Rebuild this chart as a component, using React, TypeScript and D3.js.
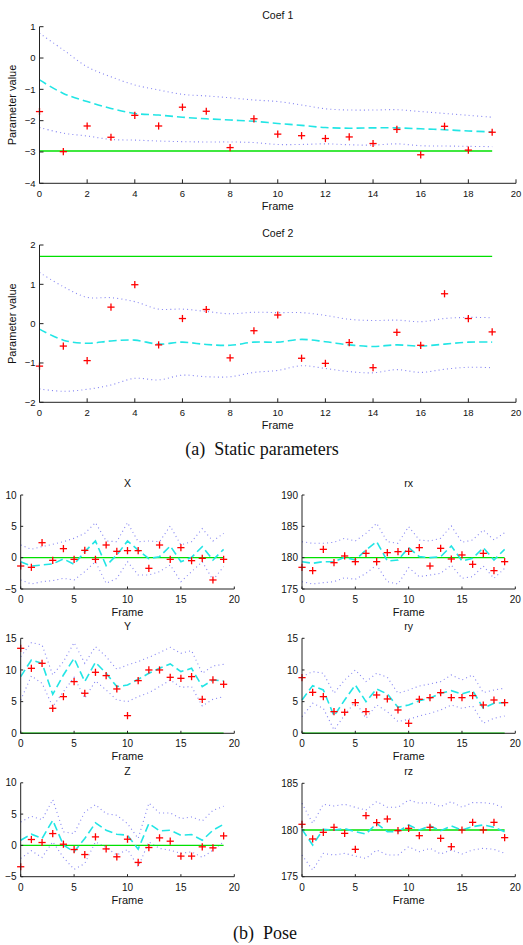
import React from 'react';
import * as d3 from 'd3';

// ---------- DATA ----------
const FRAMES = [0, 1, 2, 3, 4, 5, 6, 7, 8, 9, 10, 11, 12, 13, 14, 15, 16, 17, 18, 19];

// Coef 1
const coef1Obs = [-1.71, -2.99, -2.17, -2.53, -1.83, -2.17, -1.57, -1.70, -2.86, -1.94, -2.43, -2.48, -2.57, -2.52, -2.73, -2.28, -3.09, -2.18, -2.94, -2.37];
const coef1Mean = [-0.70, -1.13, -1.39, -1.61, -1.77, -1.82, -1.89, -1.94, -1.98, -2.02, -2.09, -2.15, -2.22, -2.24, -2.23, -2.23, -2.26, -2.29, -2.33, -2.36];
const coef1Upper = [0.79, 0.26, -0.28, -0.60, -0.86, -1.02, -1.16, -1.21, -1.27, -1.34, -1.39, -1.50, -1.62, -1.66, -1.66, -1.65, -1.71, -1.77, -1.83, -1.89];
const coef1Lower = [-2.22, -2.40, -2.49, -2.60, -2.62, -2.65, -2.67, -2.68, -2.68, -2.70, -2.76, -2.76, -2.74, -2.77, -2.78, -2.74, -2.80, -2.81, -2.82, -2.83];
const coef1True = -2.97;

// Coef 2
const coef2Obs = [-1.08, -0.57, -0.94, 0.42, 0.99, -0.54, 0.13, 0.36, -0.87, -0.18, 0.22, -0.88, -1.01, -0.48, -1.12, -0.22, -0.55, 0.76, 0.13, -0.21];
const coef2Mean = [-0.14, -0.42, -0.50, -0.44, -0.42, -0.52, -0.47, -0.53, -0.55, -0.47, -0.47, -0.40, -0.46, -0.54, -0.58, -0.54, -0.57, -0.52, -0.47, -0.47];
const coef2Upper = [1.30, 0.94, 0.67, 0.66, 0.56, 0.37, 0.37, 0.31, 0.25, 0.29, 0.28, 0.28, 0.21, 0.11, 0.08, 0.09, 0.05, 0.13, 0.16, 0.15];
const coef2Lower = [-1.66, -1.72, -1.67, -1.56, -1.39, -1.43, -1.31, -1.35, -1.35, -1.24, -1.19, -1.07, -1.14, -1.22, -1.25, -1.17, -1.24, -1.16, -1.11, -1.12];
const coef2True = 1.71;

// Pose X
const poseXObs = [-1.33, -1.54, 2.39, -0.43, 1.44, -0.27, 1.17, -0.27, 2.02, 1.01, 1.12, 1.12, -1.70, 2.02, -0.27, 1.60, -0.48, -0.11, -3.56, -0.27];
const poseXMean = [-0.64, -1.33, -1.17, -1.0, -0.2, -1.06, 0.96, 2.66, -1.28, 0.43, 2.66, 1.22, -0.16, 0.16, 1.86, -0.64, 0.05, 1.76, -0.37, 1.33];
const poseXUpper = [2.02, 1.33, 1.76, 2.13, 2.55, 3.09, 3.88, 5.59, 2.66, 2.55, 5.59, 2.55, 2.66, 2.55, 5.05, 2.02, 2.55, 4.63, 2.66, 3.88];
const poseXLower = [-3.56, -4.2, -3.83, -3.67, -3.30, -3.56, -2.23, -0.64, -4.10, -3.30, -0.64, -2.77, -2.77, -2.23, -1.17, -3.83, -2.23, -0.64, -3.56, -1.44];
const poseXTrue = 0;

// Pose rx
const poseRxObs = [178.46, 177.93, 181.33, 179.20, 180.27, 179.36, 180.69, 179.36, 180.80, 180.96, 181.01, 181.60, 178.67, 181.49, 179.79, 180.43, 178.94, 180.69, 177.93, 179.36];
const poseRxMean = [179.36, 179.10, 179.36, 179.36, 180.05, 179.63, 181.22, 182.55, 179.47, 179.63, 181.60, 180.16, 180.0, 180.16, 181.86, 179.47, 179.89, 181.60, 179.63, 181.33];
const poseRxUpper = [182.55, 182.29, 182.29, 182.45, 183.09, 182.66, 183.88, 185.48, 182.55, 182.29, 184.95, 182.82, 182.66, 183.09, 185.05, 182.45, 182.82, 184.42, 182.82, 183.99];
const poseRxLower = [176.17, 175.80, 176.01, 176.17, 176.81, 176.54, 177.50, 178.83, 176.17, 175.80, 178.40, 176.97, 177.23, 177.50, 178.83, 176.70, 176.97, 178.67, 176.70, 178.30];
const poseRxTrue = 180;

// Pose Y
const poseYObs = [13.42, 10.26, 11.05, 3.95, 5.79, 8.16, 6.32, 9.63, 9.11, 7.0, 2.79, 8.32, 10.0, 10.0, 8.84, 8.68, 8.95, 5.37, 8.42, 7.74];
const poseYMean = [8.95, 11.58, 11.05, 6.16, 9.21, 11.84, 8.16, 11.21, 9.47, 7.37, 7.63, 8.53, 9.47, 10.26, 10.95, 9.74, 10.26, 7.37, 8.42, 8.26];
const poseYUpper = [12.11, 14.32, 13.95, 9.21, 11.32, 14.32, 11.05, 13.68, 12.11, 10.11, 10.79, 11.32, 12.0, 12.74, 13.58, 12.63, 13.05, 9.47, 10.63, 10.89];
const poseYLower = [5.26, 9.05, 7.89, 4.21, 6.58, 8.84, 5.53, 8.26, 6.84, 5.26, 5.0, 5.79, 6.42, 7.37, 8.42, 7.26, 7.37, 4.32, 5.37, 5.79];
const poseYTrue = 0;

// Pose ry
const poseRyObs = [8.79, 6.47, 5.79, 3.42, 3.32, 4.84, 3.42, 6.05, 5.42, 3.68, 1.58, 5.37, 5.63, 6.42, 5.63, 5.63, 5.95, 4.47, 5.26, 4.84];
const poseRyMean = [5.26, 7.53, 6.84, 2.74, 5.26, 7.63, 5.0, 7.0, 6.21, 4.11, 4.47, 5.16, 5.53, 6.32, 6.74, 6.21, 6.74, 3.95, 4.74, 4.84];
const poseRyUpper = [8.95, 9.74, 9.47, 6.32, 8.42, 10.0, 8.16, 9.47, 8.84, 6.32, 6.84, 7.47, 7.79, 8.16, 9.21, 8.42, 9.21, 6.42, 6.84, 7.11];
const poseRyLower = [2.63, 4.74, 3.95, 0.53, 2.89, 5.0, 2.37, 4.47, 3.42, 1.84, 2.21, 2.74, 3.16, 3.68, 4.47, 3.95, 4.32, 1.58, 2.37, 2.74];
const poseRyTrue = 0;

// Pose Z
const poseZObs = [-3.41, 0.94, 0.46, 1.89, 0.19, -0.66, -1.46, 1.36, -0.56, -1.82, 0.99, -2.72, -0.34, 1.20, 0.67, -1.71, -1.71, -0.23, -0.39, 1.52];
const poseZMean = [0.83, 1.79, 1.10, 4.01, 0.04, -1.02, 1.10, 3.59, 2.42, 1.79, 1.62, -0.6, 3.48, 2.32, 2.42, 1.62, 1.73, 0.83, 2.42, 3.38];
const poseZUpper = [3.75, 4.65, 4.12, 7.30, 2.16, 1.89, 5.34, 6.50, 5.07, 4.81, 3.48, 1.10, 6.77, 5.18, 5.18, 4.28, 4.54, 3.91, 5.60, 6.24];
const poseZLower = [-2.08, -0.86, -1.92, 0.57, -1.92, -3.83, -2.88, 0.57, -0.33, -1.55, -0.65, -3.41, 0.57, -0.49, -0.76, -1.29, -1.02, -1.92, -0.76, 0.57];
const poseZTrue = 0;

// Pose rz
const poseRzObs = [180.61, 179.04, 179.75, 180.29, 179.64, 177.93, 181.54, 180.79, 181.18, 179.93, 180.18, 179.39, 180.29, 179.11, 178.21, 180.0, 180.82, 180.0, 180.82, 179.18];
const poseRzMean = [180.07, 178.39, 180.07, 180.0, 180.14, 179.82, 179.57, 180.71, 179.82, 179.82, 180.54, 180.0, 180.43, 179.93, 180.43, 180.0, 180.36, 180.54, 180.29, 179.82];
const poseRzUpper = [182.86, 180.71, 182.75, 182.57, 182.75, 182.43, 182.14, 183.04, 182.43, 182.43, 183.21, 182.86, 182.93, 182.5, 183.04, 182.43, 182.93, 182.93, 182.79, 182.32];
const poseRzLower = [177.32, 175.71, 177.5, 177.32, 177.5, 177.21, 176.96, 177.86, 177.32, 177.32, 178.21, 177.68, 178.04, 177.43, 177.86, 177.43, 177.86, 178.04, 177.93, 177.5];
const poseRzTrue = 180;

// Tick labels
const coefXTicks = [0, 2, 4, 6, 8, 10, 12, 14, 16, 18, 20];
const coef1YTicks = [-4, -3, -2, -1, 0, 1];
const coef2YTicks = [-2, -1, 0, 1, 2];
const poseXTicks = [0, 5, 10, 15, 20];
const poseXYTicks = [-5, 0, 5, 10];
const poseRxYTicks = [175, 180, 185, 190];
const poseYYTicks = [0, 5, 10, 15];
const poseRyYTicks = [0, 5, 10, 15];
const poseZYTicks = [-5, 0, 5, 10];
const poseRzYTicks = [175, 180, 185];

// ---------- DRAWING ----------
const SANS = '"Liberation Sans", Arial, Helvetica, sans-serif';
const SERIF = '"Liberation Serif", "Times New Roman", serif';

const fmt = (v: number) => (v < 0 ? '\u2212' + Math.abs(v) : String(v));

type PanelProps = {
  left: number; right: number; top: number; bottom: number;
  xDomain: [number, number]; xTicks: number[];
  yDomain: [number, number]; yTicks: number[];
  obs: number[]; mean: number[]; upper: number[]; lower: number[]; truth: number;
  title: string; ylabel?: string; tickSize: number; tickLen: number;
  smooth: boolean;
};

function Panel(p: PanelProps) {
  const x = d3.scaleLinear().domain(p.xDomain).range([p.left, p.right]);
  const y = d3.scaleLinear().domain(p.yDomain).range([p.bottom, p.top]);
  const curve = p.smooth ? d3.curveCatmullRom : d3.curveLinear;
  const line = d3.line<number>().x((_, i) => x(FRAMES[i])).y((d) => y(d)).curve(curve);
  const cross = 3.6;
  const axisColor = '#222';
  return (
    <g>
      {/* bounds */}
      <path d={line(p.upper) || ''} fill="none" stroke="#6f6ff0" strokeWidth={1.1} strokeDasharray="1,3.2" strokeOpacity={0.85} />
      <path d={line(p.lower) || ''} fill="none" stroke="#6f6ff0" strokeWidth={1.1} strokeDasharray="1,3.2" strokeOpacity={0.85} />
      {/* true value */}
      <line x1={x(FRAMES[0])} x2={x(FRAMES[FRAMES.length - 1])} y1={y(p.truth)} y2={y(p.truth)} stroke="#00e000" strokeWidth={1.4} />
      {/* mean */}
      <path d={line(p.mean) || ''} fill="none" stroke="#22e5e5" strokeWidth={1.6} strokeDasharray="8,4" />
      {/* observations */}
      {p.obs.map((v, i) => (
        <g key={i} stroke="#ff0000" strokeWidth={1.3}>
          <line x1={x(FRAMES[i]) - cross} x2={x(FRAMES[i]) + cross} y1={y(v)} y2={y(v)} />
          <line x1={x(FRAMES[i])} x2={x(FRAMES[i])} y1={y(v) - cross} y2={y(v) + cross} />
        </g>
      ))}
      {/* axes */}
      <line x1={p.left} x2={p.left} y1={p.top} y2={p.bottom} stroke={axisColor} strokeWidth={1} />
      <line x1={p.left} x2={p.right} y1={p.bottom} y2={p.bottom} stroke={axisColor} strokeWidth={1} />
      {p.xTicks.map((t) => (
        <g key={'x' + t}>
          <line x1={x(t)} x2={x(t)} y1={p.bottom} y2={p.bottom - p.tickLen} stroke={axisColor} />
          <text x={x(t)} y={p.bottom + 14} fontSize={p.tickSize} fontFamily={SANS} textAnchor="middle" fill="#111">{fmt(t)}</text>
        </g>
      ))}
      {p.yTicks.map((t) => (
        <g key={'y' + t}>
          <line x1={p.left} x2={p.left + p.tickLen} y1={y(t)} y2={y(t)} stroke={axisColor} />
          <text x={p.left - 4} y={y(t) + p.tickSize * 0.36} fontSize={p.tickSize} fontFamily={SANS} textAnchor="end" fill="#111">{fmt(t)}</text>
        </g>
      ))}
      <text x={(p.left + p.right) / 2} y={p.top - 8} fontSize={10.5} fontFamily={SANS} textAnchor="middle" fill="#111">{p.title}</text>
      <text x={(p.left + p.right) / 2} y={p.bottom + 27} fontSize={11} fontFamily={SANS} textAnchor="middle" fill="#111">Frame</text>
      {p.ylabel && (
        <text transform={`translate(${p.left - 24},${(p.top + p.bottom) / 2}) rotate(-90)`} fontSize={11} fontFamily={SANS} textAnchor="middle" fill="#111">{p.ylabel}</text>
      )}
    </g>
  );
}

export default function App() {
  const coefCommon = { left: 39.5, right: 516, xDomain: [0, 20] as [number, number], xTicks: coefXTicks, tickSize: 9.5, tickLen: 4, smooth: true, ylabel: 'Parameter value' };
  const L = { left: 20.7, right: 234.3 };
  const R = { left: 302, right: 515.3 };
  const poseCommon = { xDomain: [0, 20] as [number, number], xTicks: poseXTicks, tickSize: 10, tickLen: 2.5, smooth: false };
  const row1 = { top: 495, bottom: 589 };
  const row2 = { top: 638.3, bottom: 733.3 };
  const row3 = { top: 782.8, bottom: 876.7 };
  return (
    <svg width={523} height={945} style={{ position: 'absolute', left: 0, top: 0, background: '#fff' }}>
      <rect x={0} y={0} width={523} height={945} fill="#fff" />
      <Panel {...coefCommon} top={26.7} bottom={183.3} yDomain={[-4, 1]} yTicks={coef1YTicks}
        obs={coef1Obs} mean={coef1Mean} upper={coef1Upper} lower={coef1Lower} truth={coef1True} title="Coef 1" />
      <Panel {...coefCommon} top={245} bottom={402.3} yDomain={[-2, 2]} yTicks={coef2YTicks}
        obs={coef2Obs} mean={coef2Mean} upper={coef2Upper} lower={coef2Lower} truth={coef2True} title="Coef 2" />
      <text x={262} y={455} fontSize={18} fontFamily={SERIF} textAnchor="middle" fill="#111" xmlSpace="preserve">(a)  Static parameters</text>

      <Panel {...poseCommon} {...L} {...row1} yDomain={[-5, 10]} yTicks={poseXYTicks}
        obs={poseXObs} mean={poseXMean} upper={poseXUpper} lower={poseXLower} truth={poseXTrue} title="X" />
      <Panel {...poseCommon} {...R} {...row1} yDomain={[175, 190]} yTicks={poseRxYTicks}
        obs={poseRxObs} mean={poseRxMean} upper={poseRxUpper} lower={poseRxLower} truth={poseRxTrue} title="rx" />
      <Panel {...poseCommon} {...L} {...row2} yDomain={[0, 15]} yTicks={poseYYTicks}
        obs={poseYObs} mean={poseYMean} upper={poseYUpper} lower={poseYLower} truth={poseYTrue} title="Y" />
      <Panel {...poseCommon} {...R} {...row2} yDomain={[0, 15]} yTicks={poseRyYTicks}
        obs={poseRyObs} mean={poseRyMean} upper={poseRyUpper} lower={poseRyLower} truth={poseRyTrue} title="ry" />
      <Panel {...poseCommon} {...L} {...row3} yDomain={[-5, 10]} yTicks={poseZYTicks}
        obs={poseZObs} mean={poseZMean} upper={poseZUpper} lower={poseZLower} truth={poseZTrue} title="Z" />
      <Panel {...poseCommon} {...R} top={783.3} bottom={876.7} yDomain={[175, 185]} yTicks={poseRzYTicks}
        obs={poseRzObs} mean={poseRzMean} upper={poseRzUpper} lower={poseRzLower} truth={poseRzTrue} title="rz" />
      <text x={265} y={939} fontSize={18} fontFamily={SERIF} textAnchor="middle" fill="#111" xmlSpace="preserve">(b)  Pose</text>
    </svg>
  );
}
